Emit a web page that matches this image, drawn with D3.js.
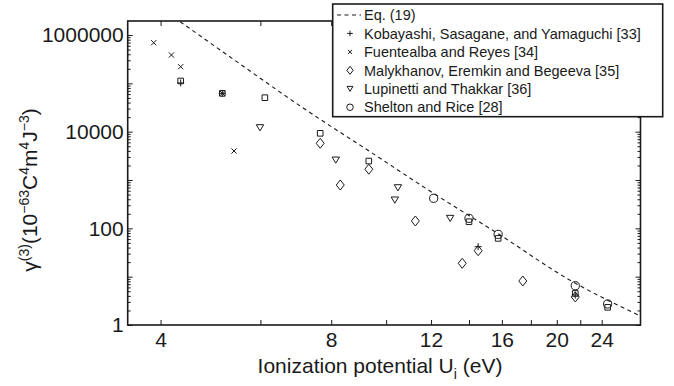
<!DOCTYPE html>
<html>
<head>
<meta charset="utf-8">
<script src="https://cdn.jsdelivr.net/npm/d3@7"></script>
<style>
  body { margin: 0; background: #fff; }
  svg text { font-family: "Liberation Sans", Arial, sans-serif; fill: #1a1a1a; }
</style>
</head>
<body>
<div class="chart"></div>
<script>
// values (x = ionization potential in eV, y = gamma(3))
const eqX = [4.33, 5.45, 7.15, 9.37, 12.12, 15.89, 20.83, 27.86];
const eqY = [1.89e6, 2.81e5, 3.05e4, 3.85e3, 531, 72.8, 9.25, 1.61];

const kobX = [4.34, 5.14, 14.53, 21.56];
const kobY = [1.02e5, 6.2e4, 41.7, 4.17];

const fueX = [3.89, 4.18, 4.34, 5.14, 5.39];
const fueY = [6.93e5, 3.86e5, 2.21e5, 6.2e4, 3.98e3];

const malX = [7.65, 8.30, 9.32, 11.26, 13.62, 14.53, 17.42, 21.56];
const malY = [5.75e3, 788, 1.67e3, 142, 18.9, 34.5, 8.13, 3.8];

const lupX = [5.99, 8.15, 10.36, 10.49, 12.97];
const lupY = [1.21e4, 2.59e3, 386, 693, 161];

const sheX = [12.13, 14.0, 15.76, 21.56, 24.59];
const sheY = [419, 161, 75, 6.5, 2.72];

// squares in the plot that have no legend entry
const sqX = [4.34, 5.14, 6.11, 7.65, 9.32, 14.0, 15.76, 21.56, 24.59];
const sqY = [1.12e5, 6.2e4, 5.05e4, 9.25e3, 2.47e3, 137, 62, 4.49, 2.32];

const xTicks = [4, 6, 8, 10, 12, 14, 16, 18, 20, 22, 24];
const xLabels = [4, 8, 12, 16, 20, 24];
const yLabels = [1, 100, 10000, 1000000];

const legendNames = [
  'Eq. (19)',
  'Kobayashi, Sasagane, and Yamaguchi [33]',
  'Fuentealba and Reyes [34]',
  'Malykhanov, Eremkin and Begeeva [35]',
  'Lupinetti and Thakkar [36]',
  'Shelton and Rice [28]'
];

const W = 674, H = 386;
const plotL = 127.7, plotR = 640.5, plotT = 21, plotB = 325;
const ink = '#1a1a1a';

const x = d3.scaleLog().domain([3.5, 28.1]).range([plotL, plotR]);
const y = d3.scaleLog().domain([1, 1.95e6]).range([plotB, plotT]);

const svg = d3.select('.chart').append('svg')
  .attr('width', W)
  .attr('height', H);

svg.append('defs').append('clipPath').attr('id', 'plotClip')
  .append('rect')
  .attr('x', plotL).attr('y', plotT)
  .attr('width', plotR - plotL).attr('height', plotB - plotT);

// minor/major tick values for the log y axis
const yMajor = d3.range(0, 7).map(p => Math.pow(10, p));
const yMinor = [];
for (let p = 0; p < 7; p++) {
  for (let k = 2; k <= 9; k++) {
    const v = k * Math.pow(10, p);
    if (v <= 1.95e6) yMinor.push(v);
  }
}

const fmtX = d => xLabels.includes(d) ? d : '';
const fmtY = d => yLabels.includes(d) ? d3.format('d')(d) : '';

// axes, ticks pointing inwards
function styleAxis(g) {
  g.select('.domain').remove();
  g.selectAll('line').attr('stroke', ink).attr('stroke-width', 1);
  g.selectAll('text').style('font-size', '21px').attr('fill', ink);
}

const xAxisG = svg.append('g')
  .attr('transform', `translate(0,${plotB})`)
  .call(d3.axisBottom(x).tickValues(xTicks).tickFormat(fmtX).tickSize(-5).tickPadding(7.5))
  .call(styleAxis);
// drop the empty labels of the unlabelled ticks
xAxisG.selectAll('text').filter(d => !xLabels.includes(d)).remove();

svg.append('g')
  .attr('transform', `translate(0,${plotT})`)
  .call(d3.axisTop(x).tickValues(xTicks).tickFormat('').tickSize(-5))
  .call(styleAxis)
  .selectAll('text').remove();

const yAxisG = svg.append('g')
  .attr('transform', `translate(${plotL},0)`)
  .call(d3.axisLeft(y).tickValues(yMajor).tickFormat(fmtY).tickSize(-5).tickPadding(4))
  .call(styleAxis);
yAxisG.selectAll('text').filter(d => !yLabels.includes(d)).remove();

svg.append('g')
  .attr('transform', `translate(${plotL},0)`)
  .call(d3.axisLeft(y).tickValues(yMinor).tickFormat('').tickSize(-3))
  .call(styleAxis)
  .selectAll('text').remove();

svg.append('g')
  .attr('transform', `translate(${plotR},0)`)
  .call(d3.axisRight(y).tickValues(yMajor).tickFormat('').tickSize(-5))
  .call(styleAxis)
  .selectAll('text').remove();

svg.append('g')
  .attr('transform', `translate(${plotR},0)`)
  .call(d3.axisRight(y).tickValues(yMinor).tickFormat('').tickSize(-3))
  .call(styleAxis)
  .selectAll('text').remove();

// box
svg.append('rect')
  .attr('x', plotL).attr('y', plotT)
  .attr('width', plotR - plotL).attr('height', plotB - plotT)
  .attr('fill', 'none')
  .attr('stroke', ink)
  .attr('stroke-width', 1.6);

// Eq. (19) dashed curve
const line = d3.line()
  .x(d => x(d[0]))
  .y(d => y(d[1]))
  .curve(d3.curveMonotoneX);

svg.append('path')
  .datum(d3.zip(eqX, eqY))
  .attr('clip-path', 'url(#plotClip)')
  .attr('d', line)
  .attr('fill', 'none')
  .attr('stroke', ink)
  .attr('stroke-width', 1.1)
  .attr('stroke-dasharray', '4,3.5');

// marker shapes, drawn around (0,0)
const shapes = {
  plus: s => `M${-3.5*s},0H${3.5*s}M0,${-3.5*s}V${3.5*s}`,
  cross: s => `M${-2.6*s},${-2.6*s}L${2.6*s},${2.6*s}M${-2.6*s},${2.6*s}L${2.6*s},${-2.6*s}`,
  diamond: s => `M0,${-5*s}L${4*s},0L0,${5*s}L${-4*s},0Z`,
  tri: s => `M${-3.7*s},${-3*s}L${3.7*s},${-3*s}L0,${3.2*s}Z`,
  circle: s => `M${-4.1*s},0a${4.1*s},${4.1*s} 0 1,0 ${8.2*s},0a${4.1*s},${4.1*s} 0 1,0 ${-8.2*s},0Z`,
  square: s => `M${-2.8*s},${-2.8*s}H${2.8*s}V${2.8*s}H${-2.8*s}Z`
};

function drawSeries(xs, ys, shape) {
  svg.append('g')
    .selectAll('path')
    .data(d3.zip(xs, ys))
    .join('path')
    .attr('transform', d => `translate(${x(d[0])},${y(d[1])})`)
    .attr('d', shapes[shape](1))
    .attr('fill', 'none')
    .attr('stroke', ink)
    .attr('stroke-width', 1);
}

drawSeries(sqX, sqY, 'square');
drawSeries(malX, malY, 'diamond');
drawSeries(lupX, lupY, 'tri');
drawSeries(sheX, sheY, 'circle');
drawSeries(fueX, fueY, 'cross');
drawSeries(kobX, kobY, 'plus');

// legend
const lg = svg.append('g');
lg.append('rect')
  .attr('x', 332.7).attr('y', 4)
  .attr('width', 330).attr('height', 112.7)
  .attr('fill', '#fff')
  .attr('stroke', ink)
  .attr('stroke-width', 1.6);

const legendShapes = [null, 'plus', 'cross', 'diamond', 'tri', 'circle'];
legendNames.forEach((name, i) => {
  const cy = 15 + i * 18.45;
  if (i === 0) {
    lg.append('line')
      .attr('x1', 337).attr('x2', 361)
      .attr('y1', cy).attr('y2', cy)
      .attr('stroke', ink)
      .attr('stroke-width', 1.1)
      .attr('stroke-dasharray', '4,3.5');
  } else {
    lg.append('path')
      .attr('transform', `translate(350,${cy})`)
      .attr('d', shapes[legendShapes[i]](0.8))
      .attr('fill', 'none')
      .attr('stroke', ink)
      .attr('stroke-width', 1);
  }
  lg.append('text')
    .attr('x', 364)
    .attr('y', cy)
    .attr('dy', '0.36em')
    .style('font-size', '14.5px')
    .text(name);
});

// x axis title
const xt = svg.append('text')
  .attr('x', 380)
  .attr('y', 373)
  .attr('text-anchor', 'middle')
  .style('font-size', '21px');
xt.append('tspan').text('Ionization potential U');
xt.append('tspan').attr('dy', 6).style('font-size', '14px').text('i');
xt.append('tspan').attr('dy', -6).text(' (eV)');

// y axis title
const yt = svg.append('text')
  .attr('transform', 'translate(37,190) rotate(-90)')
  .attr('text-anchor', 'middle')
  .style('font-size', '21px');
const parts = [
  ['γ', 0], ['(3)', 1], ['(10', 0], ['−63', 1], ['C', 0], ['4', 1],
  ['m', 0], ['4', 1], ['J', 0], ['−3', 1], [')', 0]
];
let level = 0;
parts.forEach(([t, sup]) => {
  const sp = yt.append('tspan').text(t);
  if (sup !== level) sp.attr('dy', sup ? -8 : 8);
  if (sup) sp.style('font-size', '14px');
  level = sup;
});
</script>
</body>
</html>
